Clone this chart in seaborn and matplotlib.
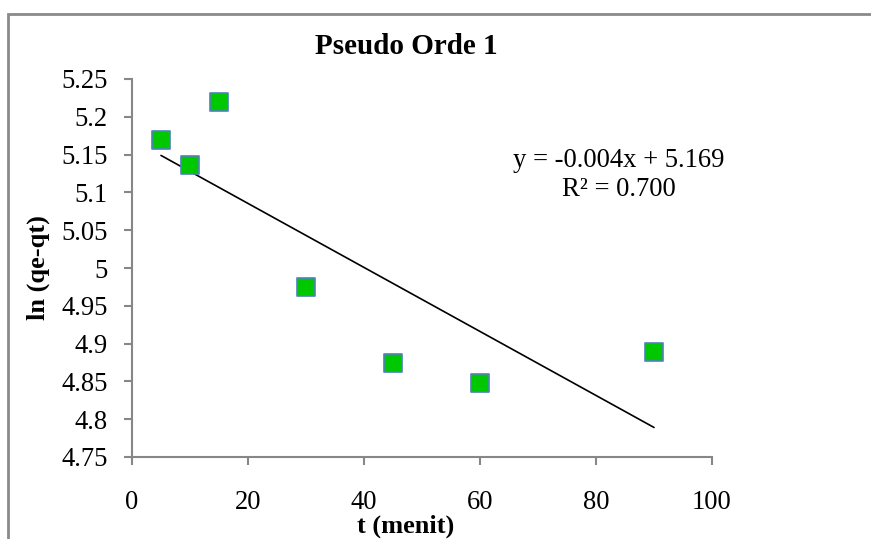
import matplotlib
matplotlib.use("Agg")
import matplotlib.pyplot as plt
import numpy as np
import pandas as pd
import seaborn as sns
from matplotlib.patches import Rectangle

# Kinetics data: time (minutes) vs ln(qe - qt)
t_menit = [5, 10, 15, 30, 45, 60, 90]
ln_qe_qt = [5.169, 5.136, 5.220, 4.975, 4.874, 4.848, 4.889]

x_ticks = [0, 20, 40, 60, 80, 100]
y_ticks = [4.75, 4.8, 4.85, 4.9, 4.95, 5.0, 5.05, 5.1, 5.15, 5.2, 5.25]
y_tick_labels = ["4.75", "4.8", "4.85", "4.9", "4.95", "5", "5.05", "5.1", "5.15", "5.2", "5.25"]

title = "Pseudo Orde 1"
x_label = "t (menit)"
y_label = "ln (qe-qt)"
eq_line = "y = -0.004x + 5.169"
r2_line = "R² = 0.700"

df = pd.DataFrame({"t": t_menit, "ln": ln_qe_qt})

sns.set_theme(style="white")
plt.rcParams["font.family"] = ["Liberation Serif", "DejaVu Serif"]
plt.rcParams["text.color"] = "black"

fig = plt.figure(figsize=(8.71, 5.39), dpi=100)
fig.patch.set_facecolor("white")
ax = fig.add_axes([132 / 871, 1 - 457 / 539, (712 - 132) / 871, (457 - 79) / 539])

# Linear trendline fitted to the points
sns.regplot(data=df, x="t", y="ln", ax=ax, scatter=False, ci=None, truncate=True,
            line_kws={"color": "black", "lw": 1.2})
sns.scatterplot(data=df, x="t", y="ln", ax=ax, marker="s", s=175,
                color="#00c800", edgecolor="#4f81bd", linewidth=1.2, zorder=3)

ax.set_xlim(0, 100)
ax.set_ylim(4.75, 5.25)
ax.set_xticks(x_ticks)
ax.set_xticklabels([str(v) for v in x_ticks])
ax.set_yticks(y_ticks)
ax.set_yticklabels(y_tick_labels)
ax.set_xlabel("")
ax.set_ylabel("")

for side in ["top", "right"]:
    ax.spines[side].set_visible(False)
for side in ["left", "bottom"]:
    ax.spines[side].set_color("#878787")
    ax.spines[side].set_linewidth(1.5)

ax.tick_params(axis="both", which="major", direction="out", length=5.5, width=1.5,
               color="#878787", labelsize=19.2, labelcolor="black",
               bottom=True, left=True)
ax.tick_params(axis="x", pad=18)
ax.tick_params(axis="y", pad=12)
ax.set_facecolor("white")

fig.text(406 / 871, 1 - 46 / 539, title, ha="center", va="center",
         fontsize=21, fontweight="bold", color="black")
fig.text(406 / 871, 1 - 526 / 539, x_label, ha="center", va="center",
         fontsize=19, fontweight="bold", color="black")
fig.text(38 / 871, 1 - 268 / 539, y_label, ha="center", va="center",
         fontsize=19, fontweight="bold", rotation=90, color="black")
fig.text(619 / 871, 1 - 160 / 539, eq_line, ha="center", va="center",
         fontsize=19.2, color="black")
fig.text(619 / 871, 1 - 190 / 539, r2_line, ha="center", va="center",
         fontsize=19.2, color="black")

# Outer chart frame
fig.patches.append(Rectangle((8 / 871, -0.05), 1.0, 1 - 14 / 539 + 0.05,
                             transform=fig.transFigure, fill=False,
                             edgecolor="#8a8a8a", linewidth=2.0))

fig.savefig("out.png", dpi=100, facecolor="white")
